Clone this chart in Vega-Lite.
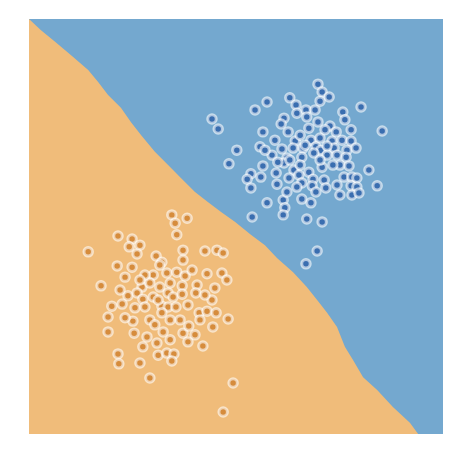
{
  "$schema": "https://vega.github.io/schema/vega-lite/v6.json",
  "width": 414,
  "height": 415,
  "autosize": {"type": "none"},
  "padding": {"left": 29, "top": 19, "right": 25, "bottom": 28},
  "background": "white",
  "config": {"view": {"fill": "#74a8cf", "stroke": null}},
  "datasets": {
    "boundary": [
      {"x": 0, "y": 10}, {"x": 0.29, "y": 9.73}, {"x": 0.63, "y": 9.45}, {"x": 1.01, "y": 9.13},
      {"x": 1.43, "y": 8.77}, {"x": 1.67, "y": 8.48}, {"x": 1.91, "y": 8.17}, {"x": 2.22, "y": 7.86},
      {"x": 2.46, "y": 7.52}, {"x": 2.71, "y": 7.2}, {"x": 3.04, "y": 6.8}, {"x": 3.36, "y": 6.48},
      {"x": 3.67, "y": 6.17}, {"x": 4.01, "y": 5.83}, {"x": 4.32, "y": 5.59}, {"x": 4.64, "y": 5.35},
      {"x": 4.98, "y": 5.11}, {"x": 5.36, "y": 4.8}, {"x": 5.7, "y": 4.55}, {"x": 5.99, "y": 4.24},
      {"x": 6.38, "y": 3.9}, {"x": 6.71, "y": 3.54}, {"x": 6.96, "y": 3.23}, {"x": 7.2, "y": 2.92},
      {"x": 7.44, "y": 2.58}, {"x": 7.63, "y": 2.1}, {"x": 7.83, "y": 1.78}, {"x": 8.07, "y": 1.37},
      {"x": 8.41, "y": 1.06}, {"x": 8.79, "y": 0.65}, {"x": 9.2, "y": 0.27}, {"x": 9.4, "y": 0}
    ],
    "points": [
      {"x": 6.98, "y": 8.43, "cls": "1"}, {"x": 7.08, "y": 8.24, "cls": "1"}, {"x": 7.25, "y": 8.12, "cls": "1"},
      {"x": 7.03, "y": 8.02, "cls": "1"}, {"x": 6.3, "y": 8.1, "cls": "1"}, {"x": 5.75, "y": 8.0, "cls": "1"},
      {"x": 5.46, "y": 7.81, "cls": "1"}, {"x": 6.45, "y": 7.93, "cls": "1"}, {"x": 6.47, "y": 7.73, "cls": "1"},
      {"x": 6.69, "y": 7.81, "cls": "1"}, {"x": 6.91, "y": 7.81, "cls": "1"}, {"x": 8.02, "y": 7.88, "cls": "1"},
      {"x": 7.58, "y": 7.76, "cls": "1"}, {"x": 6.16, "y": 7.61, "cls": "1"}, {"x": 6.71, "y": 7.64, "cls": "1"},
      {"x": 6.09, "y": 7.47, "cls": "1"}, {"x": 7.27, "y": 7.42, "cls": "1"}, {"x": 6.76, "y": 7.37, "cls": "1"},
      {"x": 7.42, "y": 7.28, "cls": "1"}, {"x": 7.78, "y": 7.33, "cls": "1"}, {"x": 8.53, "y": 7.3, "cls": "1"},
      {"x": 5.65, "y": 7.28, "cls": "1"}, {"x": 5.94, "y": 7.08, "cls": "1"}, {"x": 6.43, "y": 7.06, "cls": "1"},
      {"x": 6.81, "y": 7.08, "cls": "1"}, {"x": 7.03, "y": 7.13, "cls": "1"}, {"x": 7.32, "y": 7.06, "cls": "1"},
      {"x": 7.56, "y": 7.08, "cls": "1"}, {"x": 7.78, "y": 7.06, "cls": "1"}, {"x": 5.58, "y": 6.92, "cls": "1"},
      {"x": 6.11, "y": 6.87, "cls": "1"}, {"x": 6.38, "y": 6.89, "cls": "1"}, {"x": 6.62, "y": 6.89, "cls": "1"},
      {"x": 6.93, "y": 6.92, "cls": "1"}, {"x": 7.05, "y": 6.84, "cls": "1"}, {"x": 7.37, "y": 6.89, "cls": "1"},
      {"x": 7.68, "y": 6.84, "cls": "1"}, {"x": 7.9, "y": 6.89, "cls": "1"}, {"x": 5.02, "y": 6.84, "cls": "1"},
      {"x": 5.87, "y": 6.72, "cls": "1"}, {"x": 6.23, "y": 6.65, "cls": "1"}, {"x": 6.59, "y": 6.67, "cls": "1"},
      {"x": 6.88, "y": 6.77, "cls": "1"}, {"x": 7.2, "y": 6.72, "cls": "1"}, {"x": 7.44, "y": 6.72, "cls": "1"},
      {"x": 7.66, "y": 6.67, "cls": "1"}, {"x": 5.65, "y": 6.46, "cls": "1"}, {"x": 6.16, "y": 6.53, "cls": "1"},
      {"x": 5.97, "y": 6.29, "cls": "1"}, {"x": 6.4, "y": 6.36, "cls": "1"}, {"x": 6.76, "y": 6.31, "cls": "1"},
      {"x": 7.08, "y": 6.43, "cls": "1"}, {"x": 7.51, "y": 6.48, "cls": "1"}, {"x": 7.73, "y": 6.46, "cls": "1"},
      {"x": 5.36, "y": 6.27, "cls": "1"}, {"x": 5.6, "y": 6.19, "cls": "1"}, {"x": 5.27, "y": 6.14, "cls": "1"},
      {"x": 6.28, "y": 6.17, "cls": "1"}, {"x": 6.52, "y": 6.24, "cls": "1"}, {"x": 6.59, "y": 6.05, "cls": "1"},
      {"x": 6.86, "y": 6.14, "cls": "1"}, {"x": 7.13, "y": 6.12, "cls": "1"}, {"x": 7.61, "y": 6.19, "cls": "1"},
      {"x": 7.8, "y": 6.19, "cls": "1"}, {"x": 7.92, "y": 6.17, "cls": "1"}, {"x": 8.21, "y": 6.36, "cls": "1"},
      {"x": 5.36, "y": 5.93, "cls": "1"}, {"x": 5.99, "y": 6.02, "cls": "1"}, {"x": 6.47, "y": 5.95, "cls": "1"},
      {"x": 6.84, "y": 5.98, "cls": "1"}, {"x": 7.17, "y": 5.93, "cls": "1"}, {"x": 7.78, "y": 5.98, "cls": "1"},
      {"x": 7.92, "y": 5.95, "cls": "1"}, {"x": 8.41, "y": 5.98, "cls": "1"}, {"x": 7.8, "y": 5.76, "cls": "1"},
      {"x": 7.97, "y": 5.81, "cls": "1"}, {"x": 5.75, "y": 5.57, "cls": "1"}, {"x": 6.14, "y": 5.64, "cls": "1"},
      {"x": 6.59, "y": 5.66, "cls": "1"}, {"x": 6.81, "y": 5.57, "cls": "1"}, {"x": 6.18, "y": 5.45, "cls": "1"},
      {"x": 5.39, "y": 5.23, "cls": "1"}, {"x": 6.71, "y": 5.18, "cls": "1"}, {"x": 7.08, "y": 5.11, "cls": "1"},
      {"x": 4.42, "y": 7.59, "cls": "1"}, {"x": 4.57, "y": 7.35, "cls": "1"}, {"x": 4.83, "y": 6.51, "cls": "1"},
      {"x": 6.14, "y": 5.28, "cls": "1"}, {"x": 6.96, "y": 4.41, "cls": "1"}, {"x": 6.69, "y": 4.1, "cls": "1"},
      {"x": 6.55, "y": 7.2, "cls": "1"}, {"x": 6.26, "y": 7.28, "cls": "1"}, {"x": 7.15, "y": 7.33, "cls": "1"},
      {"x": 6.67, "y": 6.96, "cls": "1"}, {"x": 7.2, "y": 6.94, "cls": "1"}, {"x": 6.3, "y": 6.6, "cls": "1"},
      {"x": 7.03, "y": 6.6, "cls": "1"}, {"x": 7.34, "y": 6.48, "cls": "1"}, {"x": 6.55, "y": 6.48, "cls": "1"},
      {"x": 6.01, "y": 6.55, "cls": "1"}, {"x": 6.93, "y": 5.83, "cls": "1"}, {"x": 7.44, "y": 6.0, "cls": "1"},
      {"x": 6.23, "y": 5.83, "cls": "1"}, {"x": 7.63, "y": 7.57, "cls": "1"}, {"x": 6.98, "y": 7.52, "cls": "1"},
      {"x": 5.7, "y": 6.84, "cls": "1"}, {"x": 7.51, "y": 5.76, "cls": "1"},
      {"x": 3.45, "y": 5.28, "cls": "0"}, {"x": 3.82, "y": 5.2, "cls": "0"}, {"x": 3.53, "y": 5.08, "cls": "0"},
      {"x": 3.57, "y": 4.8, "cls": "0"}, {"x": 2.15, "y": 4.77, "cls": "0"}, {"x": 2.49, "y": 4.7, "cls": "0"},
      {"x": 2.68, "y": 4.55, "cls": "0"}, {"x": 2.42, "y": 4.51, "cls": "0"}, {"x": 1.43, "y": 4.39, "cls": "0"},
      {"x": 2.61, "y": 4.34, "cls": "0"}, {"x": 3.72, "y": 4.43, "cls": "0"}, {"x": 4.25, "y": 4.41, "cls": "0"},
      {"x": 4.54, "y": 4.43, "cls": "0"}, {"x": 4.69, "y": 4.36, "cls": "0"}, {"x": 3.07, "y": 4.29, "cls": "0"},
      {"x": 3.21, "y": 4.14, "cls": "0"}, {"x": 3.72, "y": 4.19, "cls": "0"}, {"x": 2.13, "y": 4.05, "cls": "0"},
      {"x": 2.49, "y": 4.02, "cls": "0"}, {"x": 2.32, "y": 3.78, "cls": "0"}, {"x": 3.0, "y": 3.83, "cls": "0"},
      {"x": 3.33, "y": 3.88, "cls": "0"}, {"x": 3.57, "y": 3.9, "cls": "0"}, {"x": 3.77, "y": 3.81, "cls": "0"},
      {"x": 4.3, "y": 3.86, "cls": "0"}, {"x": 4.66, "y": 3.88, "cls": "0"}, {"x": 4.78, "y": 3.71, "cls": "0"},
      {"x": 1.74, "y": 3.57, "cls": "0"}, {"x": 2.73, "y": 3.54, "cls": "0"}, {"x": 2.92, "y": 3.64, "cls": "0"},
      {"x": 3.16, "y": 3.54, "cls": "0"}, {"x": 3.41, "y": 3.64, "cls": "0"}, {"x": 3.7, "y": 3.57, "cls": "0"},
      {"x": 4.06, "y": 3.59, "cls": "0"}, {"x": 4.49, "y": 3.52, "cls": "0"}, {"x": 2.39, "y": 3.33, "cls": "0"},
      {"x": 2.61, "y": 3.4, "cls": "0"}, {"x": 2.75, "y": 3.25, "cls": "0"}, {"x": 3.0, "y": 3.3, "cls": "0"},
      {"x": 3.36, "y": 3.4, "cls": "0"}, {"x": 3.48, "y": 3.3, "cls": "0"}, {"x": 3.7, "y": 3.37, "cls": "0"},
      {"x": 4.03, "y": 3.4, "cls": "0"}, {"x": 4.42, "y": 3.23, "cls": "0"}, {"x": 2.0, "y": 3.08, "cls": "0"},
      {"x": 2.25, "y": 3.13, "cls": "0"}, {"x": 2.56, "y": 3.04, "cls": "0"}, {"x": 2.8, "y": 3.06, "cls": "0"},
      {"x": 3.21, "y": 3.08, "cls": "0"}, {"x": 3.36, "y": 3.06, "cls": "0"}, {"x": 3.55, "y": 3.06, "cls": "0"},
      {"x": 4.11, "y": 2.92, "cls": "0"}, {"x": 4.3, "y": 2.96, "cls": "0"}, {"x": 4.52, "y": 2.92, "cls": "0"},
      {"x": 1.91, "y": 2.82, "cls": "0"}, {"x": 2.51, "y": 2.72, "cls": "0"}, {"x": 2.92, "y": 2.75, "cls": "0"},
      {"x": 3.21, "y": 2.92, "cls": "0"}, {"x": 3.41, "y": 2.75, "cls": "0"}, {"x": 4.13, "y": 2.75, "cls": "0"},
      {"x": 4.44, "y": 2.58, "cls": "0"}, {"x": 4.81, "y": 2.77, "cls": "0"}, {"x": 1.91, "y": 2.46, "cls": "0"},
      {"x": 2.54, "y": 2.43, "cls": "0"}, {"x": 2.85, "y": 2.34, "cls": "0"}, {"x": 3.24, "y": 2.46, "cls": "0"},
      {"x": 3.72, "y": 2.43, "cls": "0"}, {"x": 3.86, "y": 2.6, "cls": "0"}, {"x": 3.09, "y": 2.19, "cls": "0"},
      {"x": 2.75, "y": 2.1, "cls": "0"}, {"x": 3.84, "y": 2.22, "cls": "0"}, {"x": 4.2, "y": 2.12, "cls": "0"},
      {"x": 3.12, "y": 1.9, "cls": "0"}, {"x": 3.33, "y": 1.95, "cls": "0"}, {"x": 3.5, "y": 1.93, "cls": "0"},
      {"x": 2.15, "y": 1.93, "cls": "0"}, {"x": 2.17, "y": 1.69, "cls": "0"}, {"x": 2.68, "y": 1.71, "cls": "0"},
      {"x": 3.45, "y": 1.76, "cls": "0"}, {"x": 2.92, "y": 1.35, "cls": "0"}, {"x": 4.93, "y": 1.23, "cls": "0"},
      {"x": 4.69, "y": 0.53, "cls": "0"},
      {"x": 3.16, "y": 4.07, "cls": "0"}, {"x": 2.8, "y": 3.83, "cls": "0"}, {"x": 3.94, "y": 3.95, "cls": "0"},
      {"x": 3.12, "y": 3.23, "cls": "0"}, {"x": 3.84, "y": 3.11, "cls": "0"}, {"x": 2.32, "y": 2.8, "cls": "0"},
      {"x": 3.65, "y": 2.75, "cls": "0"}, {"x": 3.04, "y": 2.63, "cls": "0"}, {"x": 4.01, "y": 2.39, "cls": "0"},
      {"x": 3.41, "y": 2.27, "cls": "0"}, {"x": 2.68, "y": 3.71, "cls": "0"}, {"x": 4.25, "y": 3.35, "cls": "0"},
      {"x": 2.2, "y": 3.47, "cls": "0"}
    ]
  },
  "layer": [
    {
      "data": {"name": "boundary"},
      "mark": {"type": "area", "color": "#f0bc7a", "clip": true},
      "encoding": {
        "x": {"field": "x", "type": "quantitative", "scale": {"domain": [0, 10], "nice": false, "zero": false}, "axis": null},
        "y": {"field": "y", "type": "quantitative", "scale": {"domain": [0, 10], "nice": false}, "axis": null},
        "y2": {"datum": 0}
      }
    },
    {
      "data": {"name": "points"},
      "mark": {"type": "point", "shape": "circle", "filled": true, "opacity": 1, "size": 72, "stroke": "white", "strokeWidth": 3, "strokeOpacity": 0.6},
      "encoding": {
        "x": {"field": "x", "type": "quantitative"},
        "y": {"field": "y", "type": "quantitative"},
        "color": {
          "field": "cls",
          "type": "nominal",
          "scale": {"domain": ["0", "1"], "range": ["#d68c3c", "#3a6eb0"]},
          "legend": null
        }
      }
    }
  ]
}
